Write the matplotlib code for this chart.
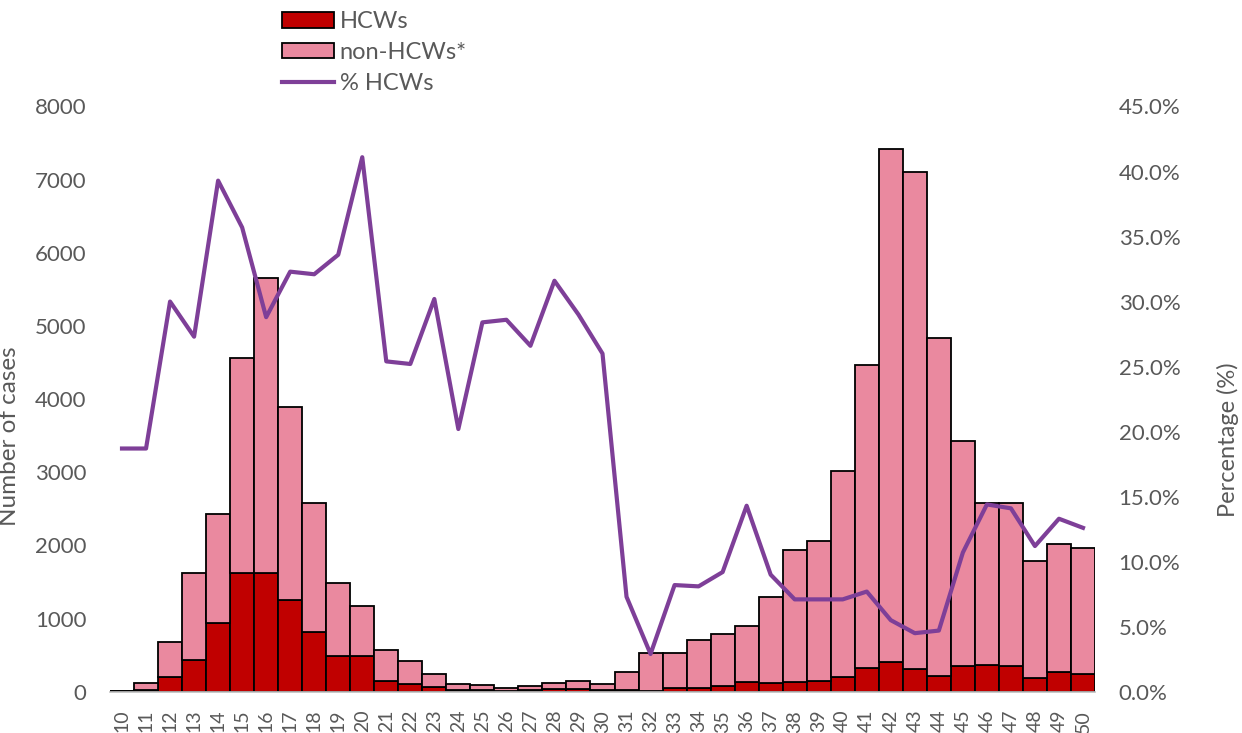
import matplotlib.pyplot as plt
from matplotlib.ticker import PercentFormatter, MultipleLocator
from matplotlib.patches import Patch
from matplotlib.lines import Line2D
import numpy as np

weeks = list(range(10, 51))

hcws = [3, 22, 200, 440, 940, 1625, 1625, 1250, 820, 490, 485,
        140, 105, 65, 20, 26, 15, 22, 40, 41, 28,
        20, 15, 44, 57, 73, 128, 117, 135, 140, 205,
        330, 400, 305, 215, 355, 365, 355, 190, 265, 240]

non_hcws = [13, 98, 480, 1185, 1483, 2941, 4032, 2637, 1755, 999, 692,
            432, 310, 172, 82, 67, 38, 62, 85, 102, 78,
            255, 519, 490, 650, 716, 770, 1182, 1802, 1922, 2818,
            4134, 7017, 6803, 4627, 3068, 2210, 2220, 1602, 1754, 1730]

pct_hcws = [18.7, 18.7, 30.0, 27.3, 39.3, 35.7, 28.8, 32.3, 32.1, 33.6, 41.1,
            25.4, 25.2, 30.2, 20.2, 28.4, 28.6, 26.6, 31.6, 29.0, 26.0,
            7.3, 2.9, 8.2, 8.1, 9.2, 14.3, 9.0, 7.1, 7.1, 7.1,
            7.7, 5.5, 4.5, 4.7, 10.7, 14.4, 14.1, 11.2, 13.3, 12.6]

grey = '#595959'
dark_red = '#C00000'
pink = '#EA899F'
purple = '#7E3F98'

plt.rcParams['font.family'] = ['Lato', 'DejaVu Sans']

fig = plt.figure(figsize=(12.42, 7.33), dpi=100)
ax = fig.add_axes([110 / 1242, 1 - 691.7 / 733, 985 / 1242, 585.2 / 733])

x = np.array(weeks)
ax.bar(x, hcws, width=1.0, color=dark_red, edgecolor='black', linewidth=1.3, zorder=2)
ax.bar(x, non_hcws, width=1.0, bottom=hcws, color=pink, edgecolor='black', linewidth=1.3, zorder=2)

ax.set_xlim(9.5, 50.5)
ax.set_ylim(0, 8000)
ax.yaxis.set_major_locator(MultipleLocator(1000))
ax.set_xticks(weeks)
ax.set_xticklabels([str(w) for w in weeks], rotation=90)

for s in ['top', 'right', 'left']:
    ax.spines[s].set_visible(False)
ax.spines['bottom'].set_color('#BFBFBF')
ax.spines['bottom'].set_linewidth(1.2)
ax.spines['bottom'].set_zorder(3)

ax.tick_params(axis='y', length=0, pad=17, labelsize=16, labelcolor=grey)
ax.tick_params(axis='x', length=0, pad=13, labelsize=14, labelcolor=grey)

ax.set_ylabel('Number of cases', fontsize=17.5, color=grey)
ax.yaxis.set_label_coords(-0.0914, 0.437)

ax2 = ax.twinx()
ax2.plot(x, np.array(pct_hcws) / 100, color=purple, linewidth=3, zorder=4)
ax2.set_ylim(0, 0.45)
ax2.yaxis.set_major_locator(MultipleLocator(0.05))
ax2.yaxis.set_major_formatter(PercentFormatter(1.0, decimals=1))
for s in ax2.spines.values():
    s.set_visible(False)
ax2.tick_params(axis='y', length=0, pad=17, labelsize=16, labelcolor=grey)
ax2.set_ylabel('Percentage (%)', fontsize=17, color=grey)
ax2.yaxis.set_label_coords(1.124, 0.43)

handles = [Patch(facecolor=dark_red, edgecolor='black', linewidth=1.3),
           Patch(facecolor=pink, edgecolor='black', linewidth=1.3),
           Line2D([0], [0], color=purple, linewidth=3)]
labels = ['HCWs', 'non-HCWs*', '% HCWs']
leg = fig.legend(handles, labels, loc='upper left', bbox_to_anchor=(282 / 1242, 1 - 11 / 733),
                 frameon=False, fontsize=17, handlelength=2.2, handleheight=0.64,
                 handletextpad=0.25, labelspacing=0.42, borderpad=0, borderaxespad=0)
for t in leg.get_texts():
    t.set_color(grey)

fig.savefig('out.png', dpi=100)
